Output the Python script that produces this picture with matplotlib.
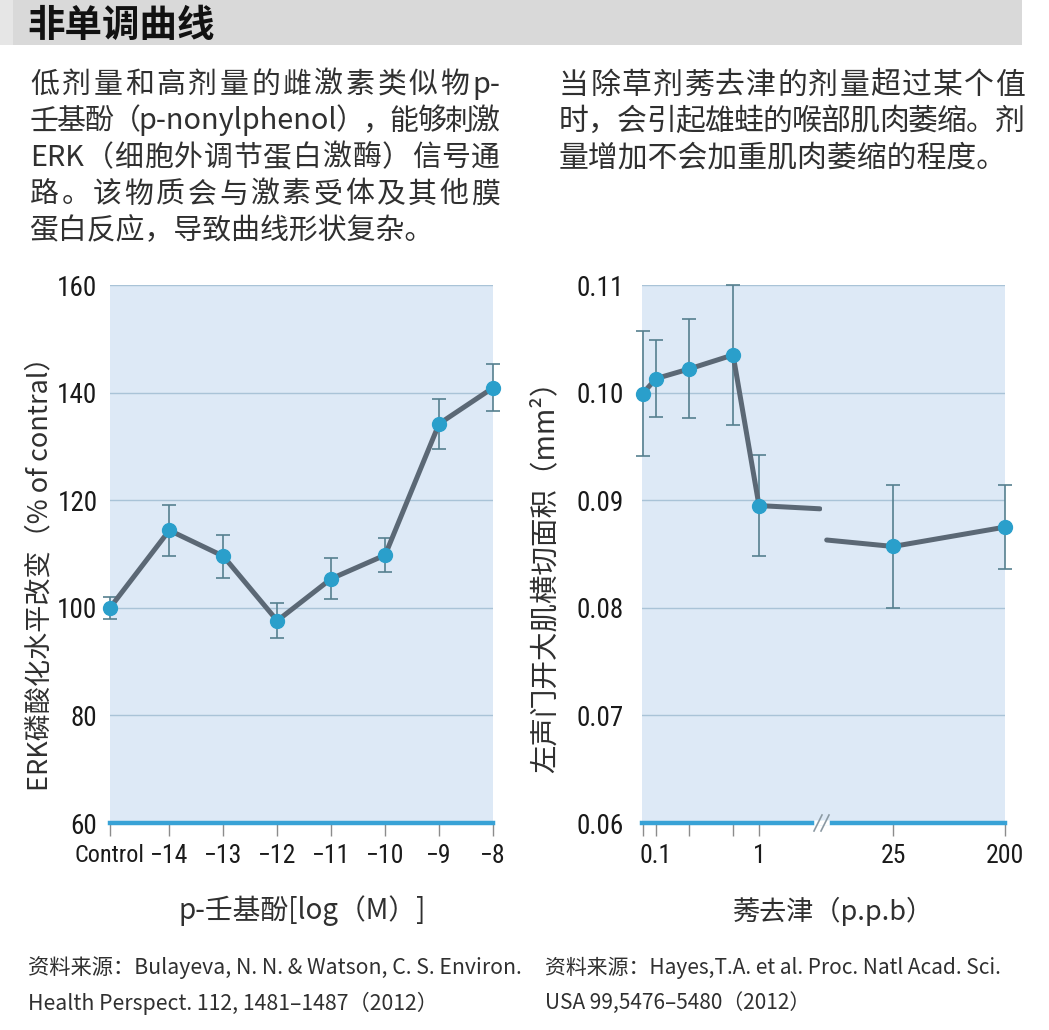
import re
import matplotlib
matplotlib.use('Agg')
import matplotlib.pyplot as plt
from matplotlib.patches import Rectangle
from matplotlib.lines import Line2D
from matplotlib.ticker import NullLocator
from matplotlib import font_manager as fm

# ---------------- data ----------------
erk_labels = ['Control', '−14', '−13', '−12', '−11', '−10', '−9', '−8']
erk_pos = [-15.1, -14, -13, -12, -11, -10, -9, -8]
erk_mean = [100.0, 114.4, 109.6, 97.6, 105.4, 109.8, 134.2, 140.9]
erk_err = [2.0, 4.8, 4.0, 3.2, 3.8, 3.1, 4.7, 4.4]
erk_yticks = [60, 80, 100, 120, 140, 160]

atz_dose_low = [0.074, 0.1, 0.21, 0.56, 1.0]
atz_mean_low = [0.0999, 0.1013, 0.1022, 0.1035, 0.0895]
atz_err_low = [0.0058, 0.0036, 0.0046, 0.0065, 0.0047]
atz_labels_low = ['', '0.1', '', '', '1']
atz_dose_high = [25, 200]
atz_mean_high = [0.0857, 0.0875]
atz_err_high = [0.0057, 0.0039]
atz_labels_high = ['25', '200']
atz_tail_low = ([3.9], [0.0892])
atz_tail_high = ([7.3], [0.0863])
atz_yticks = [0.06, 0.07, 0.08, 0.09, 0.10, 0.11]
atz_ylabels = ['0.06', '0.07', '0.08', '0.09', '0.10', '0.11']

title = '非单调曲线'
left_text = ['低剂量和高剂量的雌激素类似物p-',
             '壬基酚（p-nonylphenol），能够刺激',
             'ERK（细胞外调节蛋白激酶）信号通',
             '路。该物质会与激素受体及其他膜',
             '蛋白反应，导致曲线形状复杂。']
right_text = ['当除草剂莠去津的剂量超过某个值',
              '时，会引起雄蛙的喉部肌肉萎缩。剂',
              '量增加不会加重肌肉萎缩的程度。']
left_source = ['资料来源：Bulayeva, N. N. & Watson, C. S. Environ.',
               'Health Perspect. 112, 1481–1487（2012）']
right_source = ['资料来源：Hayes,T.A. et al. Proc. Natl Acad. Sci.',
                'USA 99,5476–5480（2012）']


# ---------------- fonts ----------------
def font_path(**kw):
    try:
        return fm.findfont(fm.FontProperties(**kw), fallback_to_default=False)
    except Exception:
        return ''


NUM_FAMILY = None
NUM_STRETCH = 'normal'
for fam in ['Roboto Condensed', 'Liberation Sans Narrow', 'Open Sans Condensed',
            'Noto Sans Condensed']:
    p = font_path(family=fam)
    if p and ('ondensed' in p or 'Narrow' in p):
        NUM_FAMILY = fam
        break
if NUM_FAMILY is None:
    for fam in ['DejaVu Sans', 'Roboto', 'Noto Sans', 'Open Sans']:
        p = font_path(family=fam, stretch='condensed')
        if p and ('ondensed' in p or 'Narrow' in p):
            NUM_FAMILY = fam
            NUM_STRETCH = 'condensed'
            break
CONDENSED = NUM_FAMILY is not None
if NUM_FAMILY is None:
    NUM_FAMILY = 'Roboto'
NUM = [NUM_FAMILY, 'DejaVu Sans']
TICK_SIZE = 18.5 if CONDENSED else 16.5

CJK = ['Noto Sans CJK SC', 'DejaVu Sans']
lp = font_path(family='Noto Sans CJK SC', weight='light')
BODY_WEIGHT = 'light' if ('Light' in lp) else 'normal'
plt.rcParams['font.family'] = CJK

BG = '#dde9f6'
GRID = '#a9c3d7'
SPINE = '#38a2d6'
MARK = '#2a9fcb'
LINE = '#5b6875'
ERR = '#56808f'
TXT = '#303030'

W, H = 1049, 1030
fig = plt.figure(figsize=(W / 100, H / 100), dpi=100)
fig.patch.set_facecolor('white')
renderer = fig.canvas.get_renderer()


def fx(px):
    return px / W


def fy(py):
    return 1 - py / H


def num_font(labels):
    for lab in labels:
        lab.set_family(NUM)
        lab.set_fontstretch(NUM_STRETCH)


def style(ax, ylim, yticks, show_ylabels=True, ylabels=None, pad=8):
    ax.set_facecolor(BG)
    for s in ['top', 'right', 'left']:
        ax.spines[s].set_visible(False)
    ax.spines['bottom'].set_color(SPINE)
    ax.spines['bottom'].set_linewidth(3.2)
    ax.spines['bottom'].set_zorder(5)
    ax.set_ylim(*ylim)
    ax.set_yticks(yticks)
    if show_ylabels:
        if ylabels is not None:
            ax.set_yticklabels(ylabels)
    else:
        ax.set_yticklabels([])
    ax.yaxis.grid(True, color=GRID, lw=1.0)
    ax.set_axisbelow(True)
    ax.tick_params(axis='y', length=0, pad=pad, labelsize=TICK_SIZE + 1,
                   labelcolor='#1a1a1a')
    ax.tick_params(axis='x', length=9, width=1, color='#8c8c8c', direction='out',
                   pad=6, labelsize=TICK_SIZE, labelcolor='#1a1a1a')
    num_font(ax.get_yticklabels())


def draw_series(ax, x, y, e):
    ax.errorbar(x, y, yerr=e, fmt='none', ecolor=ERR, elinewidth=1.2,
                capsize=4.8, capthick=1.2, zorder=3, clip_on=False)
    ax.plot(x, y, 'o', color=MARK, ms=10, mec=MARK, zorder=6, clip_on=False)


def justified_line(text, x0_px, x1_px, y_px, size, justify=True):
    """Place a line of mixed CJK/Latin text, spread to fill x0..x1 (pixels)."""
    if not justify:
        fig.text(fx(x0_px), fy(y_px), text, fontsize=size, color=TXT, ha='left',
                 va='center', family=CJK, fontweight=BODY_WEIGHT)
        return
    tokens = re.findall(r'[A-Za-z0-9\-\.%]+|.', text)
    arts, widths = [], []
    for tok in tokens:
        t = fig.text(0, fy(y_px), tok, fontsize=size, color=TXT, ha='left',
                     va='center', family=CJK, fontweight=BODY_WEIGHT)
        arts.append(t)
        widths.append(t.get_window_extent(renderer).width)
    gap = ((x1_px - x0_px) - sum(widths)) / max(len(tokens) - 1, 1)
    x = x0_px
    for t, w in zip(arts, widths):
        t.set_x(fx(x))
        x += w + gap


# ---------------- left chart ----------------
axL = fig.add_axes([fx(110), fy(823), fx(493) - fx(110), fy(285) - fy(823)])
style(axL, (60, 160), erk_yticks, pad=9)
axL.set_xlim(erk_pos[0], erk_pos[-1])
axL.set_xticks(erk_pos)
axL.set_xticklabels(erk_labels)
num_font(axL.get_xticklabels())
axL.get_xticklabels()[0].set_fontsize(TICK_SIZE - 1)
axL.plot(erk_pos, erk_mean, color=LINE, lw=3.6, solid_joinstyle='round',
         solid_capstyle='round', zorder=4, clip_on=False)
draw_series(axL, erk_pos, erk_mean, erk_err)

# ---------------- right chart (broken axis) ----------------
axA = fig.add_axes([fx(642), fy(823), fx(822) - fx(642), fy(285) - fy(823)])
axB = fig.add_axes([fx(822), fy(823), fx(1005) - fx(822), fy(285) - fy(823)])
style(axA, (0.06, 0.11), atz_yticks, ylabels=atz_ylabels, pad=13)
style(axB, (0.06, 0.11), atz_yticks, show_ylabels=False)
for ax in (axA, axB):
    ax.set_xscale('log')
    ax.xaxis.set_minor_locator(NullLocator())
axA.set_xlim(0.0731, 4.09)
axB.set_xlim(6.69, 200)
axA.set_xticks(atz_dose_low)
axA.set_xticklabels(atz_labels_low)
axB.set_xticks(atz_dose_high)
axB.set_xticklabels(atz_labels_high)
for ax in (axA, axB):
    num_font(ax.get_xticklabels())
    num_font(ax.get_yticklabels())

axA.plot(atz_dose_low + atz_tail_low[0], atz_mean_low + atz_tail_low[1], color=LINE,
         lw=3.6, solid_joinstyle='round', solid_capstyle='round', zorder=4, clip_on=False)
axB.plot(atz_tail_high[0] + atz_dose_high, atz_tail_high[1] + atz_mean_high, color=LINE,
         lw=3.6, solid_joinstyle='round', solid_capstyle='round', zorder=4, clip_on=False)
draw_series(axA, atz_dose_low, atz_mean_low, atz_err_low)
draw_series(axB, atz_dose_high, atz_mean_high, atz_err_high)

# break mark
fig.add_artist(Line2D([fx(817), fx(827)], [fy(823), fy(823)], color='white', lw=4,
                      transform=fig.transFigure, zorder=10))
for dx in (0, 7):
    fig.add_artist(Line2D([fx(814 + dx), fx(822 + dx)], [fy(831), fy(815)],
                          color='#8c9aa3', lw=1.2, transform=fig.transFigure, zorder=11))

# ---------------- title bar ----------------
fig.add_artist(Rectangle((0, fy(45)), fx(13), fy(0) - fy(45), transform=fig.transFigure,
                         facecolor='#e6e6e6', edgecolor='none', zorder=0))
fig.add_artist(Rectangle((fx(13), fy(45)), fx(1022) - fx(13), fy(0) - fy(45),
                         transform=fig.transFigure, facecolor='#d9d9d9',
                         edgecolor='none', zorder=0))
fig.text(fx(27), fy(25), title, fontsize=27, fontweight='bold', color='#111111',
         ha='left', va='center', family=CJK)

# ---------------- paragraphs ----------------
for i, line in enumerate(left_text):
    justified_line(line, 30, 500, 85 + 36.5 * i, 20.8, justify=(i < len(left_text) - 1))
for i, line in enumerate(right_text):
    justified_line(line, 559, 1025, 85 + 36.5 * i, 21.5, justify=(i < len(right_text) - 1))

# ---------------- axis labels ----------------
fig.text(fx(40), fy(567), 'ERK磷酸化水平改变（% of contral）', rotation=90,
         fontsize=19.5, color=TXT, ha='center', va='center', family=CJK,
         fontweight=BODY_WEIGHT)
fig.text(fx(545), fy(570), '左声门开大肌横切面积（mm²）', rotation=90,
         fontsize=20.5, color=TXT, ha='center', va='center', family=CJK,
         fontweight=BODY_WEIGHT)
fig.text(fx(302), fy(911), 'p-壬基酚[log（M）]', fontsize=20, color=TXT,
         ha='center', va='center', family=CJK, fontweight=BODY_WEIGHT)
fig.text(fx(833), fy(911), '莠去津（p.p.b）', fontsize=19.5, color=TXT,
         ha='center', va='center', family=CJK, fontweight=BODY_WEIGHT)

# ---------------- sources ----------------
for i, line in enumerate(left_source):
    fig.text(fx(28), fy(968 + 35 * i), line, fontsize=15.3, color=TXT,
             ha='left', va='center', family=CJK, fontweight=BODY_WEIGHT)
for i, line in enumerate(right_source):
    fig.text(fx(545), fy(968 + 35 * i), line, fontsize=15, color=TXT,
             ha='left', va='center', family=CJK, fontweight=BODY_WEIGHT)

fig.savefig('out.png', dpi=100, facecolor='white')
